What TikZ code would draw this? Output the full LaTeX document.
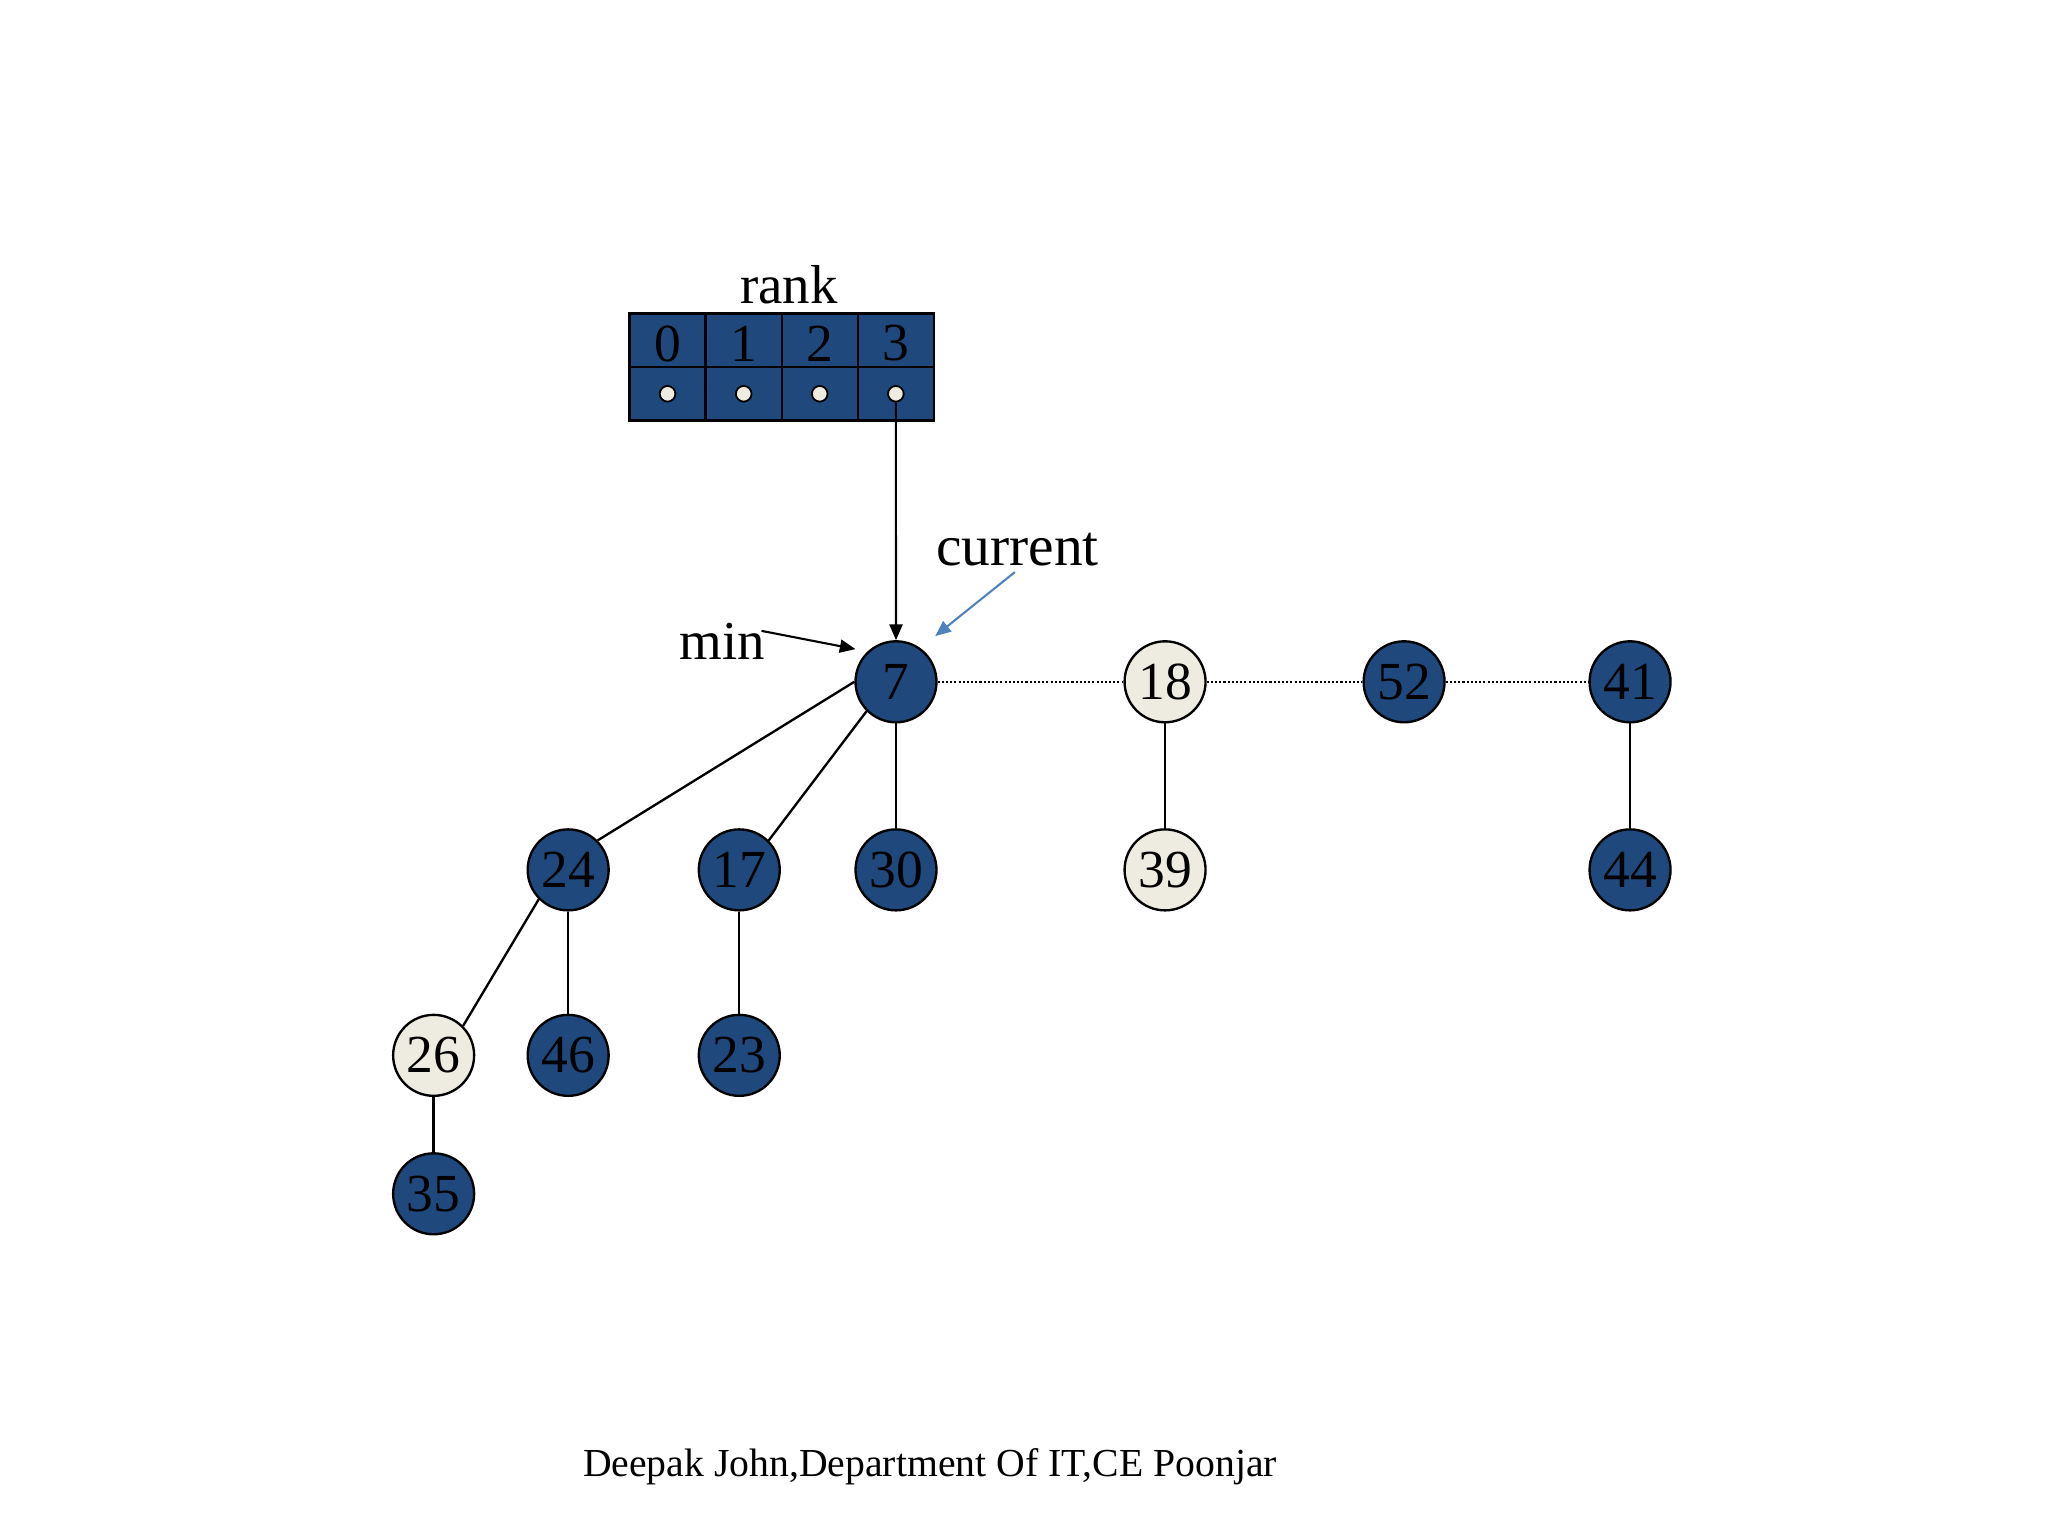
\documentclass[tikz,border=0pt]{standalone}
\usepackage{fontspec}
\setmainfont{Liberation Serif}
\usetikzlibrary{arrows.meta}
\definecolor{nblue}{HTML}{1F497D}
\definecolor{nlight}{HTML}{EEECE1}
\definecolor{cblue}{HTML}{4F81BD}
\begin{document}
\begin{tikzpicture}[x=0.5pt,y=-0.5pt,
 hnode/.style={circle,draw=black,line width=0.9pt,fill=nblue,minimum size=31pt,inner sep=0pt,font=\fontsize{20.5}{24}\selectfont},
 lnode/.style={hnode,fill=nlight},
 cell/.style={rectangle,draw=black,line width=0.9pt,fill=nblue,minimum width=29.1pt,minimum height=20.5pt,inner sep=0pt},
 digit/.style={inner sep=0pt,font=\fontsize{20.5}{24}\selectfont},
 dot/.style={circle,draw=black,line width=0.7pt,fill=nlight,minimum size=6pt,inner sep=0pt},
 tedge/.style={line width=0.9pt},
 sib/.style={line width=0.8pt,dash pattern=on 0.8pt off 0.8pt},
 lbl/.style={font=\fontsize{21}{24}\selectfont,inner sep=0pt},
 ptr/.style={line width=0.8pt,-{Triangle[length=6pt,width=5pt]}}]
\useasboundingbox (0,0) rectangle (1568,1176);
% rank table
\foreach \i/\x in {0/511.1,1/569.4,2/627.6,3/685.9}{
  \node[cell] (c\i) at (\x,260.5) {};
  \node[cell] (p\i) at (\x,301.5) {};
  \node[digit] (t\i) at (\x,263) {\i};
  \node[dot] (d\i) at (\x,301.5) {};
}
\node[lbl] (rank) at (604,218) {rank};
% heap nodes
\node[hnode] (n7) at (686,522) {7};
\node[lnode] (n18) at (892,522) {18};
\node[hnode] (n52) at (1075,522) {52};
\node[hnode] (n41) at (1248,522) {41};
\node[hnode] (n24) at (435,666) {24};
\node[hnode] (n17) at (566,666) {17};
\node[hnode] (n30) at (686,666) {30};
\node[lnode] (n39) at (892,666) {39};
\node[hnode] (n44) at (1248,666) {44};
\node[lnode] (n26) at (332,808) {26};
\node[hnode] (n46) at (435,808) {46};
\node[hnode] (n23) at (566,808) {23};
\node[hnode] (n35) at (332,914) {35};
% root list
\draw[sib] (n7) -- (n18);
\draw[sib] (n18) -- (n52);
\draw[sib] (n52) -- (n41);
% tree edges
\draw[tedge] (n7.west) -- (n24.north east);
\draw[tedge] (n7.south west) -- (n17.north east);
\draw[tedge] (n7) -- (n30);
\draw[tedge] (n18) -- (n39);
\draw[tedge] (n41) -- (n44);
\draw[tedge] (n24.south west) -- (n26.north east);
\draw[tedge] (n24) -- (n46);
\draw[tedge] (n17) -- (n23);
\draw[tedge] (n26) -- (n35);
% pointers
\draw[ptr] (d3.south) -- (n7.north);
\node[lbl,font=\fontsize{22}{26}\selectfont] (cur) at (779,421) {current};
\coordinate (curs) at (777,438);
\coordinate (cure) at (716,487);
\draw[ptr,cblue] (curs) -- (cure);
\node[lbl] (min) at (553,491) {min};
\coordinate (mins) at (583,483);
\coordinate (mine) at (655,497);
\draw[ptr] (mins) -- (mine);
% footer
\node[font=\fontsize{15.2}{18}\selectfont,inner sep=0pt] (foot) at (712,1123) {Deepak John,Department Of IT,CE Poonjar};
\end{tikzpicture}
\end{document}
